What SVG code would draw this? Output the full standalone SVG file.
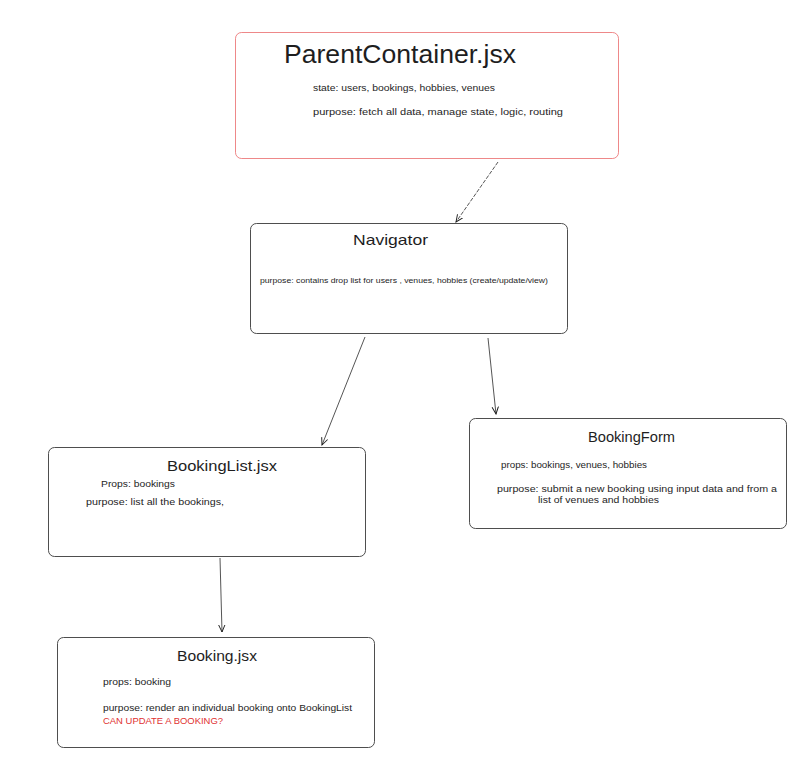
<svg xmlns="http://www.w3.org/2000/svg" width="801" height="764" viewBox="0 0 801 764">
<style>
.box{fill:#ffffff;stroke:#3a3a3a;stroke-width:0.9}
.red{stroke:#e8595b;stroke-opacity:0.8}
.t{font-family:"Liberation Sans",Arial,sans-serif;fill:#1e1e1e}
.s{font-size:9.5px}
.xs{font-size:7.5px}
.conn{fill:none;stroke:#2a2a2a;stroke-width:0.8}
</style>
<defs>
<marker id="ah" viewBox="0 0 10 10" refX="9" refY="5" markerWidth="8" markerHeight="8" markerUnits="userSpaceOnUse" orient="auto">
<path d="M0,1 L9,5 L0,9" fill="none" stroke="#1e1e1e" stroke-width="1.2"/>
</marker>
</defs>
<rect width="801" height="764" fill="#ffffff"/>
<g id="connectors">
<line class="conn" x1="498" y1="162" x2="456" y2="222" stroke-dasharray="4 1.5" marker-end="url(#ah)"/>
<line class="conn" x1="365" y1="337" x2="322" y2="445" marker-end="url(#ah)"/>
<line class="conn" x1="488" y1="338" x2="496" y2="414" marker-end="url(#ah)"/>
<line class="conn" x1="220" y1="558" x2="222" y2="632" marker-end="url(#ah)"/>
</g>
<g id="parent">
<rect class="box red" x="235.5" y="32.5" width="383" height="126" rx="6"/>
<text class="t" x="284" y="63" font-size="26" textLength="232" lengthAdjust="spacingAndGlyphs">ParentContainer.jsx</text>
<text class="t s" x="313" y="91" textLength="182" lengthAdjust="spacingAndGlyphs">state: users, bookings, hobbies, venues</text>
<text class="t s" x="313" y="115" textLength="250" lengthAdjust="spacingAndGlyphs">purpose: fetch all data, manage state, logic, routing</text>
</g>
<g id="navigator">
<rect class="box" x="250.5" y="223.5" width="317" height="110" rx="6"/>
<text class="t" x="353" y="245" font-size="15" textLength="75" lengthAdjust="spacingAndGlyphs">Navigator</text>
<text class="t xs" x="260" y="283" textLength="288" lengthAdjust="spacingAndGlyphs">purpose: contains drop list for users , venues, hobbies (create/update/view)</text>
</g>
<g id="bookinglist">
<rect class="box" x="48.5" y="447.5" width="317" height="109" rx="6"/>
<text class="t" x="167" y="471" font-size="15" textLength="110" lengthAdjust="spacingAndGlyphs">BookingList.jsx</text>
<text class="t s" x="101" y="487" textLength="74" lengthAdjust="spacingAndGlyphs">Props: bookings</text>
<text class="t s" x="86" y="505" textLength="138" lengthAdjust="spacingAndGlyphs">purpose: list all the bookings,</text>
</g>
<g id="bookingform">
<rect class="box" x="469.5" y="418.5" width="317" height="110" rx="6"/>
<text class="t" x="588" y="442" font-size="15" textLength="87" lengthAdjust="spacingAndGlyphs">BookingForm</text>
<text class="t s" x="501" y="468" textLength="146" lengthAdjust="spacingAndGlyphs">props: bookings, venues, hobbies</text>
<text class="t s" x="497" y="492" textLength="280" lengthAdjust="spacingAndGlyphs">purpose: submit a new booking using input data and from a</text>
<text class="t s" x="538" y="503" textLength="121" lengthAdjust="spacingAndGlyphs">list of venues and hobbies</text>
</g>
<g id="booking">
<rect class="box" x="57.5" y="637.5" width="317" height="110" rx="6"/>
<text class="t" x="177" y="661" font-size="15" textLength="80" lengthAdjust="spacingAndGlyphs">Booking.jsx</text>
<text class="t s" x="103" y="685" textLength="68" lengthAdjust="spacingAndGlyphs">props: booking</text>
<text class="t s" x="103" y="711" textLength="249" lengthAdjust="spacingAndGlyphs">purpose: render an individual booking onto BookingList</text>
<text class="t s" x="103" y="724" style="fill:#e03131" textLength="120" lengthAdjust="spacingAndGlyphs">CAN UPDATE A BOOKING?</text>
</g>
</svg>
